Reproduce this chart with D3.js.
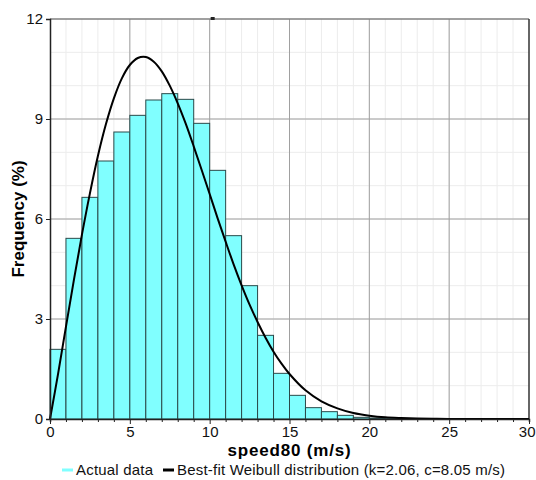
<!DOCTYPE html>
<html>
<head>
<meta charset="utf-8">
<script src="https://cdn.jsdelivr.net/npm/d3@7"></script>
<style>
  body { margin: 0; background: #fff; }
  text { font-family: Arial, "Liberation Sans", sans-serif; }
</style>
</head>
<body>
<div id="chart"></div>
<script>
// Histogram bins (m/s, 1 m/s wide) and frequency (%)
const binStarts = [0, 1, 2, 3, 4, 5, 6, 7, 8, 9, 10, 11, 12, 13, 14, 15, 16, 17, 18, 19, 20, 21, 22];
const binFreq = [2.09, 5.42, 6.65, 7.74, 8.61, 9.11, 9.57, 9.76, 9.59, 8.87, 7.46, 5.5, 4.0, 2.51, 1.37, 0.71, 0.34, 0.22, 0.11, 0.05, 0.03, 0.01, 0.01];

// Best-fit Weibull curve
const fitSpeed = [0, 0.5, 1, 1.5, 2, 2.5, 3, 3.5, 4, 4.5, 5, 5.5, 6, 6.5, 7, 7.5, 8, 8.5, 9, 9.5, 10, 10.5, 11, 11.5, 12, 12.5, 13, 13.5, 14, 14.5, 15, 16, 17, 18, 19, 20, 21, 22, 23, 24, 25, 26, 27, 28, 29, 30];
const fitFreq = [0, 1.34, 2.77, 4.18, 5.53, 6.77, 7.89, 8.84, 9.62, 10.22, 10.62, 10.83, 10.86, 10.72, 10.43, 10.0, 9.47, 8.86, 8.18, 7.47, 6.75, 6.02, 5.32, 4.64, 4.01, 3.43, 2.91, 2.44, 2.02, 1.66, 1.35, 0.86, 0.53, 0.32, 0.18, 0.1, 0.05, 0.027, 0.013, 0.006, 0.003, 0.001, 0, 0, 0, 0];

const xTicks = [0, 5, 10, 15, 20, 25, 30];
const yTicks = [0, 3, 6, 9, 12];

const width = 536, height = 480;
const margin = { top: 19, right: 7, bottom: 61, left: 50 };
const innerW = width - margin.left - margin.right;
const innerH = height - margin.top - margin.bottom;

const svg = d3.select("#chart")
  .append("svg")
  .attr("width", width)
  .attr("height", height);

const g = svg.append("g")
  .attr("transform", "translate(" + margin.left + "," + margin.top + ")");

const x = d3.scaleLinear().domain([0, 30]).range([0, innerW]);
const y = d3.scaleLinear().domain([0, 12]).range([innerH, 0]);

// Minor grid
g.append("g")
  .selectAll("line")
  .data(d3.range(1, 30))
  .enter().append("line")
  .attr("x1", d => x(d)).attr("x2", d => x(d))
  .attr("y1", 0).attr("y2", innerH)
  .attr("stroke", "#ececec");
g.append("g")
  .selectAll("line")
  .data(d3.range(1, 12))
  .enter().append("line")
  .attr("x1", 0).attr("x2", innerW)
  .attr("y1", d => y(d)).attr("y2", d => y(d))
  .attr("stroke", "#ececec");

// Major grid
g.append("g")
  .selectAll("line")
  .data(xTicks.slice(1, -1))
  .enter().append("line")
  .attr("x1", d => x(d)).attr("x2", d => x(d))
  .attr("y1", 0).attr("y2", innerH)
  .attr("stroke", "#a0a0a0");
g.append("g")
  .selectAll("line")
  .data(yTicks.slice(1, -1))
  .enter().append("line")
  .attr("x1", 0).attr("x2", innerW)
  .attr("y1", d => y(d)).attr("y2", d => y(d))
  .attr("stroke", "#a0a0a0");

// Top and right frame
g.append("line").attr("x1", 0).attr("x2", innerW).attr("y1", 0).attr("y2", 0)
  .attr("stroke", "#808080").attr("stroke-width", 1.5);
g.append("line").attr("x1", innerW).attr("x2", innerW).attr("y1", 0).attr("y2", innerH)
  .attr("stroke", "#333").attr("stroke-width", 1.5);

// Bars
g.append("g")
  .selectAll("rect")
  .data(binStarts)
  .enter().append("rect")
  .attr("x", d => x(d))
  .attr("y", (d, i) => y(binFreq[i]))
  .attr("width", d => x(d + 1) - x(d))
  .attr("height", (d, i) => innerH - y(binFreq[i]))
  .attr("fill", "#80ffff")
  .attr("stroke", "#2a4a4a")
  .attr("stroke-width", 1);

// Weibull curve
const line = d3.line()
  .x(d => x(d))
  .y((d, i) => y(fitFreq[i]))
  .curve(d3.curveCatmullRom);

g.append("path")
  .datum(fitSpeed)
  .attr("d", line)
  .attr("fill", "none")
  .attr("stroke", "#000")
  .attr("stroke-width", 2);

// small marker on the top edge
g.append("rect")
  .attr("x", x(10) + 1).attr("y", -2)
  .attr("width", 4).attr("height", 3)
  .attr("fill", "#222");

// Axes
const xAxis = g.append("g")
  .attr("transform", "translate(0," + innerH + ")")
  .call(d3.axisBottom(x).tickValues(d3.range(0, 31)).tickSize(3).tickFormat(d => xTicks.includes(d) ? d : ""));
xAxis.select(".domain").attr("stroke", "#222").attr("stroke-width", 1.5);
xAxis.selectAll(".tick line").attr("stroke", "#222").attr("y2", d => xTicks.includes(d) ? 5 : 3);
xAxis.selectAll(".tick text").attr("font-size", 15).attr("fill", "#111").attr("y", 7).attr("dy", "0.75em");
// keep the last label inside the window
xAxis.selectAll(".tick text").filter(d => d === 30).attr("text-anchor", "end").attr("x", 6);

const yAxis = g.append("g")
  .call(d3.axisLeft(y).tickValues(yTicks).tickSize(4));
yAxis.select(".domain").attr("stroke", "#222").attr("stroke-width", 1.5);
yAxis.selectAll(".tick line").attr("stroke", "#222");
yAxis.selectAll(".tick text").attr("font-size", 15).attr("fill", "#111");

// Axis titles
svg.append("text")
  .attr("x", margin.left + innerW / 2)
  .attr("y", 456)
  .attr("text-anchor", "middle")
  .attr("font-size", 17)
  .attr("font-weight", "bold")
  .attr("letter-spacing", 0.8)
  .text("speed80 (m/s)");

svg.append("text")
  .attr("transform", "translate(24," + (margin.top + innerH / 2) + ") rotate(-90)")
  .attr("text-anchor", "middle")
  .attr("font-size", 17)
  .attr("font-weight", "bold")
  .text("Frequency (%)");

// Legend
const legend = svg.append("g").attr("transform", "translate(0,470)");
legend.append("line").attr("x1", 62).attr("x2", 73).attr("y1", 0).attr("y2", 0)
  .attr("stroke", "#80ffff").attr("stroke-width", 3);
legend.append("text").attr("x", 76).attr("y", 5).attr("font-size", 15).attr("fill", "#111")
  .attr("letter-spacing", 0.2)
  .text("Actual data");
legend.append("line").attr("x1", 163).attr("x2", 174).attr("y1", 0).attr("y2", 0)
  .attr("stroke", "#000").attr("stroke-width", 3);
legend.append("text").attr("x", 177).attr("y", 5).attr("font-size", 15).attr("fill", "#111")
  .attr("letter-spacing", 0.2)
  .text("Best-fit Weibull distribution (k=2.06, c=8.05 m/s)");
</script>
</body>
</html>
